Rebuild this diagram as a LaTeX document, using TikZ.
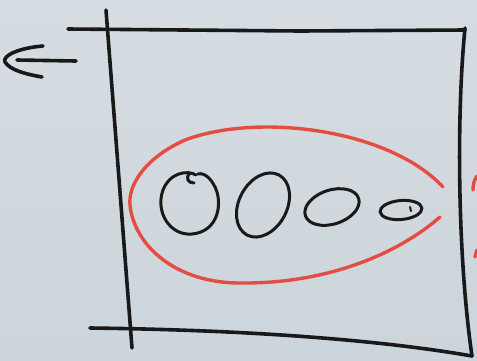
\documentclass[tikz,border=0pt]{standalone}
\usepackage{tikz}
\usetikzlibrary{calc}
\definecolor{paper}{RGB}{204, 213, 219}
\definecolor{papertop}{RGB}{214, 221, 226}
\definecolor{ink}{RGB}{25, 25, 25}
\definecolor{redink}{RGB}{228, 78, 66}
\tikzset{
  pen/.style={draw=ink, line width=3.6pt, line cap=round, line join=round},
  redpen/.style={draw=redink, line width=3.4pt, line cap=round},
  blob/.style={pen, line width=3pt}
}
\begin{document}
\begin{tikzpicture}[x=1pt, y=-1pt]
    % page
    \shade[top color=papertop, bottom color=paper] (0,0) rectangle (477,360);
    \useasboundingbox (0,0) rectangle (477,360);
    % frame
    \draw[pen] (68,29) -- (300,31) -- (465,30);
    \draw[pen] (106,10) -- (132,348);
    \draw[pen] (90,328) .. controls (250,330) and (380,340) .. (472,356);
    \draw[pen] (465,28) .. controls (456,120) and (458,260) .. (472,356);
    % arrow
    \coordinate (tailR) at (76,61);
    \coordinate (tailL) at (17,60);
    \draw[pen] (tailR) -- (tailL);
    \draw[pen] (43,46) .. controls (18,48) and (2,56) .. (5,62)
                        .. controls (10,70) and (25,74) .. (42,77);
    % red outline
    \draw[redpen] (443,187) .. controls (390,130) and (260,112) .. (185,140)
                  .. controls (145,158) and (128,185) .. (130,205)
                  .. controls (134,245) and (175,283) .. (240,283)
                  .. controls (330,284) and (400,252) .. (440,217);
    % red marks beyond the frame
    \draw[redpen] (477,176) .. controls (474,180) and (473,185) .. (473,190);
    \draw[redpen] (477,250) -- (475,257);
    % ovals
    \draw[blob] (196,175) .. controls (188,170) and (170,172) .. (163,190)
                .. controls (155,212) and (170,236) .. (192,234)
                .. controls (215,232) and (222,210) .. (217,192)
                .. controls (213,180) and (205,172) .. (198,174);
    \draw[blob] (190,173) .. controls (185,178) and (188,183) .. (194,183);
    \draw[blob] (263,205) ellipse [x radius=34, y radius=24, rotate=62];
    \draw[blob] (332,207) ellipse [x radius=28, y radius=17, rotate=18];
    \draw[blob] (401,210) ellipse [x radius=21, y radius=9.5, rotate=5];
    \draw[blob, line width=2pt] (410,207) -- (411,211);
\end{tikzpicture}
\end{document}
